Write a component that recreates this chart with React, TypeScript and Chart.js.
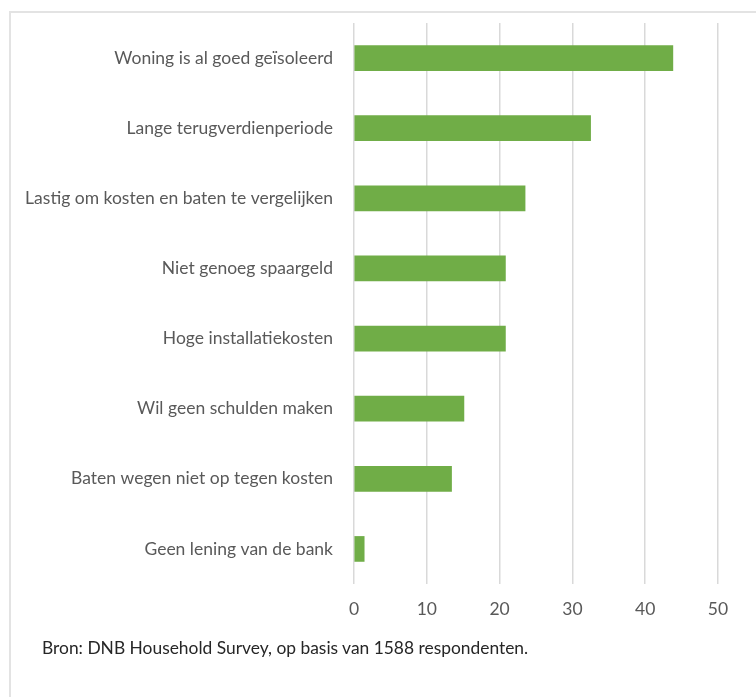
import React, { useEffect, useRef } from "react";
import { Chart, registerables } from "chart.js";

Chart.register(...registerables);

const categories: string[] = [
  "Woning is al goed geïsoleerd",
  "Lange terugverdienperiode",
  "Lastig om kosten en baten te vergelijken",
  "Niet genoeg spaargeld",
  "Hoge installatiekosten",
  "Wil geen schulden maken",
  "Baten wegen niet op tegen kosten",
  "Geen lening van de bank",
];

const percentages: number[] = [43.8, 32.5, 23.5, 20.8, 20.8, 15.1, 13.4, 1.4];

const xTicks: number[] = [0, 10, 20, 30, 40, 50];

const sourceNote = "Bron: DNB Household Survey, op basis van 1588 respondenten.";

const FONT = "Lato, 'Open Sans', sans-serif";

export default function App() {
  const canvasRef = useRef<HTMLCanvasElement | null>(null);

  useEffect(() => {
    const canvas = canvasRef.current;
    if (!canvas) return;
    const chart = new Chart(canvas, {
      type: "bar",
      data: {
        labels: categories,
        datasets: [
          {
            data: percentages,
            backgroundColor: "#70ad47",
            borderWidth: 0,
            barThickness: 25,
          },
        ],
      },
      options: {
        indexAxis: "y",
        animation: false,
        responsive: false,
        maintainAspectRatio: false,
        layout: { padding: { top: 23, right: 38, bottom: 73, left: 0 } },
        plugins: {
          legend: { display: false },
          tooltip: { enabled: false },
        },
        scales: {
          x: {
            min: xTicks[0],
            max: xTicks[xTicks.length - 1],
            afterBuildTicks: (scale: any) => {
              scale.ticks = xTicks.map((v) => ({ value: v }));
            },
            afterFit: (scale: any) => {
              scale.height = 40;
              scale.paddingLeft = 0;
              scale.paddingRight = 0;
            },
            grid: { color: "#d9d9d9", lineWidth: 1.5, drawTicks: false },
            border: { display: false },
            ticks: {
              color: "#595959",
              font: { family: FONT, size: 17.5 },
              padding: 15,
            },
          },
          y: {
            afterFit: (scale: any) => {
              scale.width = 354;
              scale.paddingTop = 0;
              scale.paddingBottom = 0;
            },
            grid: { display: false, drawTicks: false },
            border: { display: false },
            ticks: {
              color: "#595959",
              font: { family: FONT, size: 17.5 },
              padding: 21,
            },
          },
        },
      },
    });
    return () => chart.destroy();
  }, []);

  return (
    <div
      style={{
        position: "fixed",
        left: 0,
        top: 0,
        width: 756,
        height: 697,
        overflow: "hidden",
        background: "#ffffff",
      }}
    >
      <div
        style={{
          position: "absolute",
          left: 9,
          top: 11,
          width: 800,
          height: 760,
          border: "2px solid #e3e3e3",
          boxSizing: "border-box",
        }}
      />
      <canvas
        ref={canvasRef}
        width={756}
        height={697}
        style={{ position: "absolute", left: 0, top: 0 }}
      />
      <div
        style={{
          position: "absolute",
          left: 42,
          top: 637,
          fontFamily: FONT,
          fontSize: 17.4,
          color: "#262626",
          whiteSpace: "nowrap",
        }}
      >
        {sourceNote}
      </div>
    </div>
  );
}
